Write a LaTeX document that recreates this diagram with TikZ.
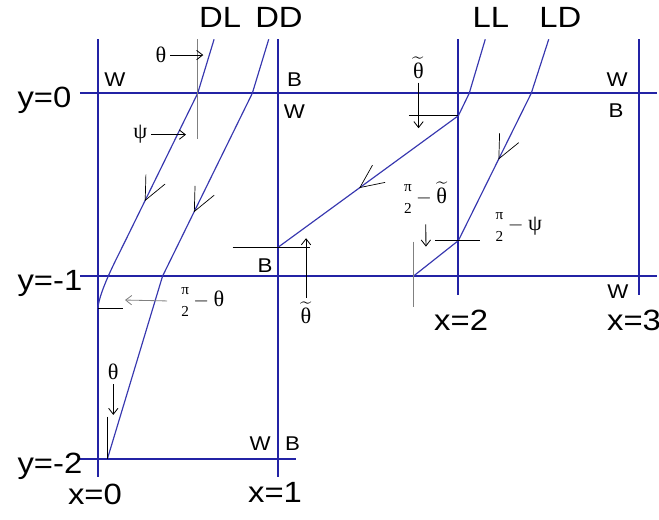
\documentclass[tikz,border=0pt]{standalone}
\usepackage{amsmath}
\usepackage{fontspec}
\setmainfont{Liberation Sans}[FakeStretch=1.12]
\newfontfamily\grkfont{Liberation Serif}
\usetikzlibrary{arrows.meta, decorations.markings}

\definecolor{gridblue}{RGB}{35,35,165}
\definecolor{rayblue}{RGB}{55,55,175}

\newcommand{\halfpi}[1]{{\renewcommand{\arraystretch}{0.88}%
  \begin{tabular}{@{}c@{}}\fontsize{13}{15}\selectfont π\\
  \fontsize{13}{15}\selectfont 2\end{tabular}}${}-{}$#1}
\newcommand{\ttilde}{$\widetilde{\text{θ}}$}

\begin{document}
\begin{tikzpicture}[x=5.41cm, y=5.49cm,
  gridline/.style={gridblue, line width=1.7pt},
  raypath/.style={rayblue, line width=1pt},
  travel/.style={postaction={decorate}, decoration={markings,
    mark=at position #1 with {\arrow{Straight Barb[length=7mm, width=6.4mm, line width=0.6pt, color=black]}}}},
  guide/.style={line width=0.7pt},
  pointer/.style={-{Straight Barb[length=1.8mm, width=2.8mm]}, line width=0.7pt},
  raylab/.style={font=\fontsize{25}{28}\selectfont},
  axislab/.style={font=\fontsize{25}{28}\selectfont},
  sidelab/.style={font=\fontsize{17}{19}\selectfont},
  anglab/.style={font=\fontsize{19}{21}\grkfont}]

\useasboundingbox (-0.5424,-2.3317) rectangle (3.1126,0.5098);

% Cell boundaries
\foreach \i/\ybot in {0/-2.095, 1/-2.095, 2/-1.105, 3/-1.105}
  \draw[gridline] (\i,0.295) -- (\i,\ybot);
\foreach \j/\xend in {0/3.1, -1/3.1, -2/1.099}
  \draw[gridline] (-0.099,\j) -- (\xend,\j);

% Axis labels
\foreach \j/\txt/\nm in {0/y=0/yzero, -1/y=-1/yone, -2/y=-2/ytwo}
  \node[axislab, anchor=base west] (\nm) at (-0.468,\j-0.079) {\txt};
\node[axislab] (xzero) at (-0.016,-2.195) {x=0};
\node[axislab] (xone) at (0.983,-2.184) {x=1};
\node[axislab] (xtwo) at (2.015,-1.243) {x=2};
\node[axislab] (xthree) at (2.974,-1.243) {x=3};

% Ray names
\foreach \nm/\xc in {DL/0.678, DD/1.005, LL/2.180, LD/2.566}
  \node[raylab] (lab\nm) at (\xc,0.417) {\nm};

% Colour of each side of the boundaries
\foreach \x/\y/\c [count=\k] in {0.095/0.073/W, 1.091/0.073/B, 1.091/-0.102/W,
    2.880/0.073/W, 2.874/-0.097/B, 0.927/-0.944/B, 2.885/-1.086/W,
    0.900/-1.916/W, 1.080/-1.916/B}
  \node[sidelab] (side\k) at (\x,\y) {\c};

% Ray DL
\coordinate (DLtop) at (0.645,0.295);
\coordinate (DLa) at (0.554,0);
\coordinate (DLb) at (0.1525,-0.807);
\coordinate (DLend) at (0,-1.175);
\draw[raypath] (DLtop) -- (DLa) -- (DLb)
  .. controls (0.098,-0.916) and (0.012,-1.075) .. (DLend);
\path[travel=0.73] (DLa) -- (DLb);

% Ray DD
\coordinate (DDtop) at (0.948,0.295);
\coordinate (DDa) at (0.857,0);
\coordinate (DDb) at (0.359,-1);
\coordinate (DDend) at (0.0527,-2);
\draw[raypath] (DDtop) -- (DDa) -- (DDb) -- (DDend);
\path[travel=0.65] (DDa) -- (DDb);

% Ray LL, reflected back to x=1
\coordinate (LLtop) at (2.149,0.295);
\coordinate (LLa) at (2.060,0);
\coordinate (LLb) at (2,-0.1224);
\coordinate (LLend) at (1,-0.8415);
\draw[raypath] (LLtop) -- (LLa) -- (LLb) -- (LLend);
\path[travel=0.55] (LLb) -- (LLend);

% Ray LD
\coordinate (LDtop) at (2.501,0.295);
\coordinate (LDa) at (2.404,0);
\coordinate (LDb) at (2,-0.805);
\coordinate (LDend) at (1.75,-1);
\draw[raypath] (LDtop) -- (LDa) -- (LDb) -- (LDend);
\path[travel=0.45] (LDa) -- (LDb);

% Angles at the DL crossing
\draw[guide, gray] (0.550,0.295) -- (0.550,-0.251);
\node[anglab] (thtop) at (0.350,0.209) {θ};
\draw[pointer] (thtop.east) -- (0.585,0.209);
\node[anglab] (psi) at (0.236,-0.226) {ψ};
\draw[pointer] (psi.east) -- (0.489,-0.226);

% Angles near x=0
\draw[guide] (DLend) -- (0.1414,-1.175);
\node[anglab, anchor=west] (hpth) at (0.44,-1.135) {\halfpi{θ}};
\draw[pointer, gray] ([xshift=-3mm]hpth.west) -- (0.151,-1.13);
\draw[guide] (0.0527,-1.767) -- (DDend);
\node[anglab] (thbot) at (0.086,-1.525) {θ};
\draw[pointer] (thbot) -- (0.086,-1.758);

% Angles on the reflected ray
\draw[guide] (0.748,-0.8415) -- (1.177,-0.8415);
\node[anglab] (tlbot) at (1.155,-1.20) {\ttilde};
\draw[pointer] (tlbot) -- (1.155,-0.792);
\draw[guide] (1.726,-0.1224) -- (LLb);
\node[anglab] (tltop) at (1.779,0.140) {\ttilde};
\draw[pointer] (tltop) -- (1.779,-0.191);

% Angles on LD
\draw[guide] (1.870,-0.805) -- (2.120,-0.805);
\draw[guide, gray] (1.75,-0.811) -- (1.75,-1.166);
\node[anglab] (hptl) at (1.818,-0.575) {\halfpi{\ttilde}};
\draw[pointer] (hptl) -- (1.820,-0.838);
\node[anglab] (hpps) at (2.335,-0.725) {\halfpi{ψ}};

\end{tikzpicture}
\end{document}
